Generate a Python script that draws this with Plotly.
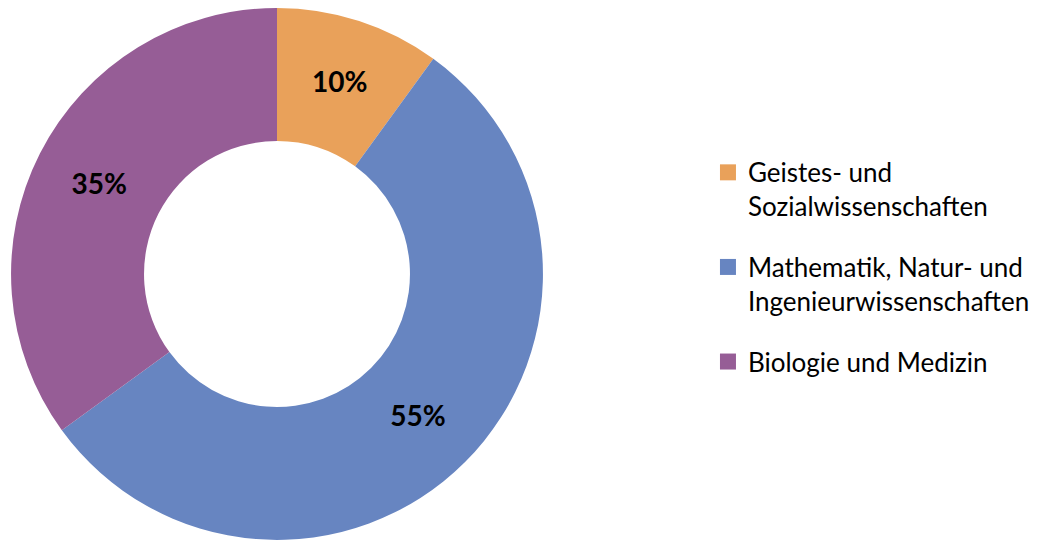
import plotly.graph_objects as go

labels = ["Geistes- und<br>Sozialwissenschaften",
          "Mathematik, Natur- und<br>Ingenieurwissenschaften",
          "Biologie und Medizin"]
values = [10, 55, 35]
colors = ["#E9A15A", "#6785C1", "#965D96"]

FONT = "Lato, Carlito, sans-serif"

fig = go.Figure()
fig.add_trace(go.Pie(
    labels=labels,
    values=values,
    hole=0.5,
    sort=False,
    direction="clockwise",
    rotation=0,
    marker=dict(colors=colors, line=dict(width=0)),
    textinfo="percent",
    texttemplate="<b>%{percent:.0%}</b>",
    textposition="inside",
    insidetextorientation="horizontal",
    textfont=dict(family=FONT, size=28, color="black"),
    domain=dict(x=[2/1051, 536/1051], y=[0.015, 1.0]),
    showlegend=False,
))

# legend entries for the pie slices
for lab, col in zip(labels, colors):
    fig.add_trace(go.Scatter(
        x=[None], y=[None], mode="markers", name=lab,
        legendgroup=lab,
        marker=dict(symbol="square", size=16, color=col),
        hoverinfo="skip",
    ))

fig.update_layout(
    width=1051, height=540,
    margin=dict(l=0, r=0, t=0, b=0),
    paper_bgcolor="white",
    plot_bgcolor="white",
    font=dict(family=FONT, size=26, color="black"),
    xaxis=dict(visible=False),
    yaxis=dict(visible=False),
    legend=dict(x=0.666, y=0.739, xanchor="left", yanchor="top",
                valign="top", font=dict(size=26), tracegroupgap=24,
                bgcolor="rgba(0,0,0,0)"),
    showlegend=True,
)

fig.write_html("out.html")
